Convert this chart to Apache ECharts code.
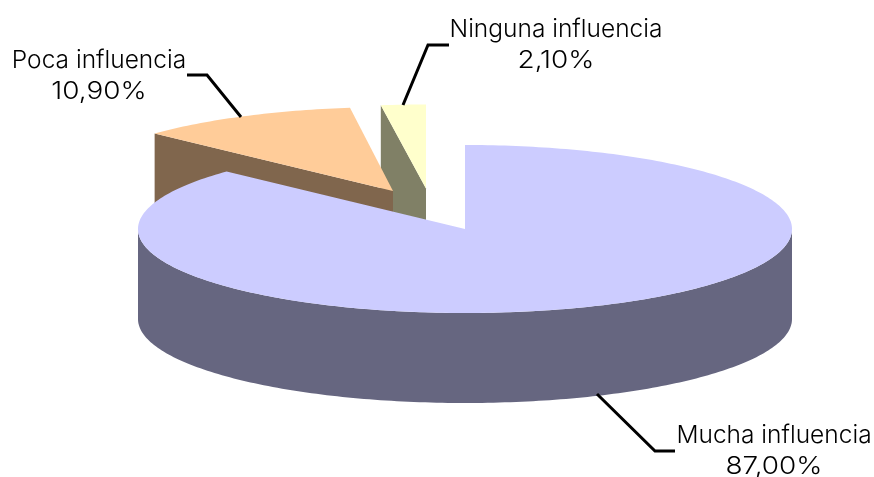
<!DOCTYPE html>
<html>
<head>
<meta charset="utf-8">
<style>html,body{margin:0;padding:0;background:#fff}#c{width:874px;height:477px}</style>
<script src="https://cdn.jsdelivr.net/npm/echarts@6/dist/echarts.min.js"></script>
</head>
<body>
<div id="c"></div>
<script>
const categories = ["Mucha influencia", "Poca influencia", "Ninguna influencia"];
const values = [87, 10.9, 2.1];
const valueLabels = ["87,00%", "10,90%", "2,10%"];

const topColors = ["#CCCCFF", "#FFCC99", "#FFFFCC"];
const sideColors = ["#666680", "#80664D", "#808066"];
const centers = [[465, 229], [393, 191], [426, 188.5]];
const widthScale = [1, 1, 1.05];
const RX = 327, RY = 84, DEPTH = 90;
const leaders = [
  [[597, 394], [655, 451], [675, 451]],
  [[187, 75], [207, 75], [241, 117]],
  [[449, 45], [428, 45], [403, 105]]
];
const labelAnchors = [[774, 436, 467], [99, 61, 91.5], [556, 29.5, 61]];
const FONT = 'Inter, sans-serif';
const VALUE_STRETCH = 1.14;

const total = values.reduce((a, b) => a + b, 0);
const rad = d => d * Math.PI / 180;

function rim(c, deg, dy, sx) {
  return [c[0] + RX * (sx || 1) * Math.sin(rad(deg)), c[1] - RY * Math.cos(rad(deg)) + (dy || 0)];
}
function arc(c, a0, a1, dy, sx) {
  const pts = [];
  const n = Math.max(2, Math.ceil(Math.abs(a1 - a0)));
  for (let i = 0; i <= n; i++) pts.push(rim(c, a0 + (a1 - a0) * i / n, dy, sx));
  return pts;
}
function poly(points, fill, z2) {
  return { type: "polygon", shape: { points }, style: { fill }, z2, silent: true };
}
function renderItem(params, api) {
  const i = params.dataIndex;
  let start = 0;
  for (let k = 0; k < i; k++) start += values[k] / total * 360;
  const a0 = start, a1 = start + api.value(0) / total * 360;
  const c = centers[i];
  const sx = widthScale[i];
  const base = (3 - i) * 10;
  const side = sideColors[i];
  const children = [];

  // Cut faces, only when they face the viewer
  const cutFace = deg => {
    const r = rim(c, deg, 0, sx);
    return poly([c, r, [r[0], r[1] + DEPTH], [c[0], c[1] + DEPTH]], side, base);
  };
  if (Math.sin(rad(a0)) < -1e-6) children.push(cutFace(a0));
  if (Math.sin(rad(a1)) > 1e-6) children.push(cutFace(a1));

  // Outer wall: the front half of the ellipse (90..270 deg from 12 o'clock)
  const w0 = Math.max(a0, 90), w1 = Math.min(a1, 270);
  if (w1 > w0) {
    children.push(poly(arc(c, w0, w1, 0, sx).concat(arc(c, w1, w0, DEPTH, sx)), side, base + 1));
  }
  // Top face
  children.push(poly([c].concat(arc(c, a0, a1, 0, sx)), topColors[i], base + 2));

  // Leader line
  children.push({
    type: "polyline",
    shape: { points: leaders[i] },
    style: { stroke: "#000", lineWidth: 3, fill: null },
    z2: 100, silent: true
  });
  // Labels
  const la = labelAnchors[i];
  [[categories[i], la[1], 1], [valueLabels[i], la[2], VALUE_STRETCH]].forEach(t => {
    children.push({
      type: "text",
      x: la[0], y: t[1], scaleX: t[2],
      style: { text: t[0], x: 0, y: 0, align: "center", verticalAlign: "middle",
               font: '300 24.5px ' + FONT, fill: "#000" },
      z2: 100, silent: true
    });
  });
  return { type: "group", children };
}

const chart = echarts.init(document.getElementById("c"), null, { renderer: "canvas" });
chart.setOption({
  animation: false,
  backgroundColor: "#fff",
  series: [{
    type: "custom",
    coordinateSystem: "none",
    renderItem,
    data: values.map((v, i) => ({ name: categories[i], value: [v] }))
  }]
});
</script>
</body>
</html>
